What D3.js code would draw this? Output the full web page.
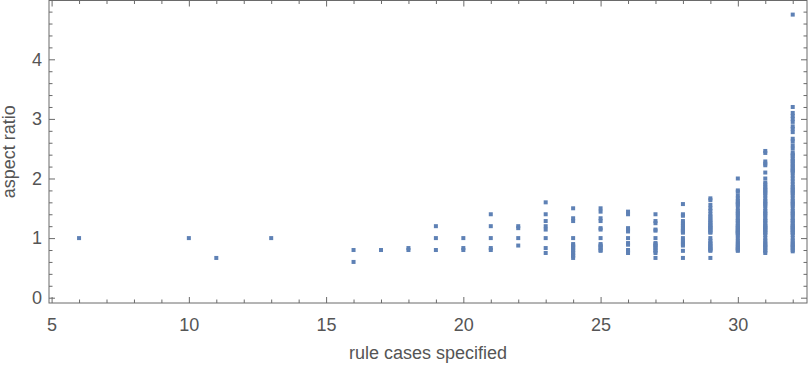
<!DOCTYPE html>
<html><head><meta charset="utf-8">
<script src="https://cdn.jsdelivr.net/npm/d3@7"></script>
<style>
html,body{margin:0;padding:0;background:#fff;}
svg{display:block;}
text{font-family:"Liberation Sans",Arial,Helvetica,sans-serif;}
</style></head>
<body><svg id="chart" width="808" height="368"></svg>
<script>
// ---- data ----
const ruleCases = [6, 10, 11, 13, 16, 17, 18, 19, 20, 21, 22, 23, 24, 25, 26, 27, 28, 29, 30, 31, 32];
const aspectRatios = [
  [1.0],
  [1.0],
  [0.667],
  [1.0],
  [0.8, 0.6],
  [0.8],
  [0.833, 0.8],
  [1.2, 1.0, 0.8],
  [1.0, 0.833, 0.8],
  [1.4, 1.2, 1.0, 0.833, 0.8],
  [1.2, 1.167, 1.0, 0.875],
  [1.6, 1.4, 1.286, 1.2, 1.143, 1.0, 0.833, 0.75],
  [1.5, 1.333, 1.286, 1.0, 0.9, 0.875, 0.857, 0.833, 0.8, 0.778, 0.75, 0.714, 0.7, 0.667],
  [1.5, 1.444, 1.333, 1.286, 1.167, 1.143, 1.0, 0.9, 0.875, 0.857, 0.833, 0.8, 0.786],
  [1.444, 1.4, 1.167, 1.143, 1.111, 1.0, 0.917, 0.889, 0.8, 0.778, 0.75],
  [1.4, 1.286, 1.25, 1.143, 1.125, 1.0, 0.917, 0.9, 0.875, 0.857, 0.833, 0.8, 0.778, 0.75, 0.667],
  [1.571, 1.4, 1.375, 1.286, 1.25, 1.222, 1.2, 1.167, 1.143, 1.125, 1.111, 1.091, 1.0, 0.96, 0.929, 0.9, 0.875, 0.786, 0.667],
  [1.667, 1.636, 1.556, 1.5, 1.455, 1.4, 1.364, 1.333, 1.3, 1.273, 1.25, 1.222, 1.2, 1.182, 1.167, 1.143, 1.125, 1.1, 1.091,
   1.0, 0.955, 0.923, 0.9, 0.875, 0.857, 0.833, 0.818, 0.8, 0.786, 0.667],
  [2.0, 1.8, 1.778, 1.714, 1.667, 1.625, 1.6, 1.571, 1.556, 1.5, 1.455, 1.429, 1.4, 1.375, 1.333, 1.3, 1.286, 1.25, 1.222, 1.2,
   1.182, 1.167, 1.143, 1.125, 1.111, 1.1, 1.083, 1.071, 1.04, 1.0, 0.96, 0.929, 0.9, 0.875, 0.857, 0.833, 0.818, 0.8, 0.786],
  [2.462, 2.429, 2.286, 2.25, 2.222, 2.1, 2.0, 1.929, 1.9, 1.857, 1.833, 1.8, 1.778, 1.75, 1.714, 1.667, 1.625, 1.6, 1.571,
   1.545, 1.5, 1.455, 1.429, 1.4, 1.375, 1.333, 1.3, 1.286, 1.25, 1.222, 1.2, 1.182, 1.167, 1.143, 1.125, 1.1, 1.083, 1.05,
   1.0, 0.96, 0.929, 0.9, 0.875, 0.857, 0.833, 0.8, 0.778, 0.75],
  [4.75, 3.2, 3.1, 3.05, 3.0, 2.95, 2.875, 2.833, 2.778, 2.667, 2.625, 2.556, 2.5, 2.429, 2.4, 2.375, 2.333, 2.3, 2.286, 2.25,
   2.222, 2.2, 2.167, 2.143, 2.125, 2.1, 2.05, 2.0, 1.95, 1.9, 1.857, 1.833, 1.8, 1.778, 1.75, 1.714, 1.667, 1.625, 1.6, 1.571,
   1.545, 1.5, 1.455, 1.429, 1.4, 1.375, 1.333, 1.3, 1.286, 1.25, 1.222, 1.2, 1.182, 1.167, 1.143, 1.125, 1.1, 1.083, 1.05,
   1.0, 0.96, 0.929, 0.9, 0.875, 0.857, 0.833, 0.8, 0.778]
];
const xMajorTicks = [5, 10, 15, 20, 25, 30];
const yMajorTicks = [0, 1, 2, 3, 4];
const xTitle = "rule cases specified";
const yTitle = "aspect ratio";

// ---- layout ----
const L = 49, R = 807, T = 0.5, B = 303;
const FS = "18px";
const svg = d3.select("#chart");
const x = d3.scaleLinear().domain([4.905, 32.52]).range([L, R]);
const y = d3.scaleLinear().domain([-0.089, 4.995]).range([B, 0]);

const axisColor = "#6a6a6a", textColor = "#555555";
const xMinor = d3.range(5, 33).filter(v => v % 5 !== 0);
const yMinor = d3.range(1, 25).map(v => v / 5).filter(v => Math.abs(v - Math.round(v)) > 1e-6);

function styleAxis(g) {
  g.select(".domain").remove();
  g.selectAll(".tick line").attr("stroke", axisColor).attr("stroke-width", 1);
  g.selectAll(".tick text").attr("fill", textColor).style("font-size", FS);
}

// major with labels
svg.append("g").attr("transform", `translate(0,${B})`)
  .call(d3.axisBottom(x).tickValues(xMajorTicks).tickFormat(d3.format("d")).tickSizeInner(-6).tickSizeOuter(0).tickPadding(15))
  .call(styleAxis);
svg.append("g").attr("transform", `translate(${L},0)`)
  .call(d3.axisLeft(y).tickValues(yMajorTicks).tickFormat(d3.format("d")).tickSizeInner(-6).tickSizeOuter(0).tickPadding(7))
  .call(styleAxis);
// mirrored majors
svg.append("g").attr("transform", `translate(0,${T})`)
  .call(d3.axisTop(x).tickValues(xMajorTicks).tickFormat("").tickSizeInner(-6).tickSizeOuter(0))
  .call(styleAxis);
svg.append("g").attr("transform", `translate(${R},0)`)
  .call(d3.axisRight(y).tickValues(yMajorTicks).tickFormat("").tickSizeInner(-6).tickSizeOuter(0))
  .call(styleAxis);
// minors
svg.append("g").attr("transform", `translate(0,${B})`)
  .call(d3.axisBottom(x).tickValues(xMinor).tickFormat("").tickSizeInner(-3.5).tickSizeOuter(0)).call(styleAxis);
svg.append("g").attr("transform", `translate(0,${T})`)
  .call(d3.axisTop(x).tickValues(xMinor).tickFormat("").tickSizeInner(-3.5).tickSizeOuter(0)).call(styleAxis);
svg.append("g").attr("transform", `translate(${L},0)`)
  .call(d3.axisLeft(y).tickValues(yMinor).tickFormat("").tickSizeInner(-3.5).tickSizeOuter(0)).call(styleAxis);
svg.append("g").attr("transform", `translate(${R},0)`)
  .call(d3.axisRight(y).tickValues(yMinor).tickFormat("").tickSizeInner(-3.5).tickSizeOuter(0)).call(styleAxis);

// frame
svg.append("rect").attr("x", L).attr("y", T).attr("width", R - L).attr("height", B - T)
  .attr("fill", "none").attr("stroke", axisColor).attr("stroke-width", 1);

// points
const pts = ruleCases.flatMap((c, i) => aspectRatios[i].map(v => ({c, v})));
const S = 4;
svg.append("g").selectAll("rect").data(pts).join("rect")
  .attr("x", d => x(d.c) - S / 2).attr("y", d => y(d.v) - S / 2)
  .attr("width", S).attr("height", S).attr("fill", "#5E81B5");

// titles
svg.append("text").attr("x", (L + R) / 2).attr("y", 359).attr("text-anchor", "middle")
  .attr("fill", textColor).style("font-size", FS).text(xTitle);
svg.append("text").attr("transform", `translate(15,${(T + B) / 2}) rotate(-90)`).attr("text-anchor", "middle")
  .attr("fill", textColor).style("font-size", FS).text(yTitle);
</script></body></html>
